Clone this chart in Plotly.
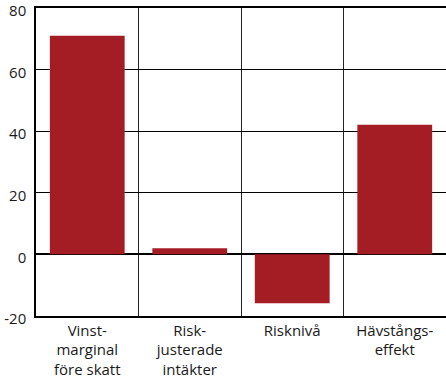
import plotly.graph_objects as go

categories = ["Vinst-<br>marginal<br>före skatt", "Risk-<br>justerade<br>intäkter", "Risknivå", "Hävstångs-<br>effekt"]
values = [71.0, 2.0, -15.9, 42.1]
y_ticks = [-20, 0, 20, 40, 60, 80]
y_tick_text = ["-20", "0", "20", "40", "60", "80"]

fig = go.Figure(
    go.Bar(x=categories, y=values, marker=dict(color="#A41D24", line=dict(width=0)), width=0.73)
)

fig.update_layout(
    width=446, height=383,
    margin=dict(l=36, r=0, t=8, b=67),
    paper_bgcolor="white", plot_bgcolor="white",
    font=dict(family="Open Sans", size=15, color="#1a1a1a"),
    showlegend=False,
    bargap=0.27,
)
fig.update_xaxes(
    type="category", tickson="boundaries", showgrid=True, gridcolor="#222", gridwidth=1,
    showline=True, mirror=True, linecolor="black", linewidth=1.5, ticks="", range=[-0.5, 3.5],
    tickfont=dict(size=15),
)
fig.update_yaxes(
    range=[-20.03, 80.03], tickvals=y_ticks, ticktext=y_tick_text,
    showgrid=True, gridcolor="black", gridwidth=1.2,
    zeroline=True, zerolinecolor="black", zerolinewidth=1.5,
    showline=True, linecolor="black", linewidth=1.5, ticks="", ticklabelstandoff=5,
    ticklabelshift=3, ticklabeloverflow="allow", automargin=False,
    tickfont=dict(size=15),
)

fig.write_html("out.html")
